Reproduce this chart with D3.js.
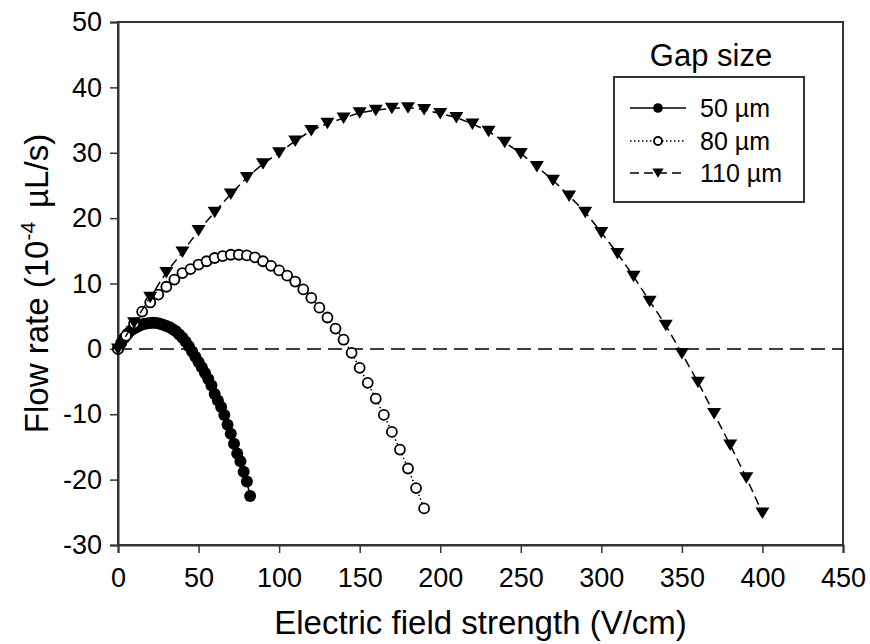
<!DOCTYPE html>
<html>
<head>
<meta charset="utf-8">
<script src="https://cdn.jsdelivr.net/npm/d3@7"></script>
<style>
  body { margin: 0; background: #fff; }
  text { font-family: Arial, 'Liberation Sans', sans-serif; fill: #000; }
</style>
</head>
<body>
<div id="root"></div>
<script>
const width = 870
const height = 644
const margin = { top: 22, right: 27, bottom: 99, left: 118 }

// 50 um gap (filled circles)
const x50 = [0, 2, 4, 6, 8, 10, 12, 14, 16, 18, 20, 22, 24, 26, 28, 30, 32, 34, 36, 38, 40,
  42, 44, 46, 48, 50, 52, 54, 56, 58, 60, 62, 64, 66, 68, 70, 72, 74, 76, 78, 80, 82]
const y50 = [0, 0.9, 1.7, 2.3, 2.8, 3.1, 3.4, 3.6, 3.8, 3.9, 3.95, 4.0, 3.95, 3.85, 3.7, 3.5,
  3.3, 3.0, 2.7, 2.2, 1.7, 1.1, 0.4, -0.4, -1.2, -2.0, -2.8, -3.7, -4.6, -5.6, -6.9, -7.9,
  -8.9, -10.1, -11.6, -13.0, -14.5, -16.0, -17.2, -18.8, -20.3, -22.5]

// 80 um gap (open circles)
const x80 = [0, 5, 10, 15, 20, 25, 30, 35, 40, 45, 50, 55, 60, 65, 70, 75, 80, 85, 90, 95,
  100, 105, 110, 115, 120, 125, 130, 135, 140, 145, 150, 155, 160, 165, 170, 175, 180, 185, 190]
const y80 = [0, 2.0, 3.9, 5.7, 7.1, 8.3, 9.5, 10.6, 11.6, 12.2, 12.9, 13.4, 13.9, 14.2, 14.4,
  14.4, 14.3, 14.0, 13.4, 12.7, 12.0, 11.2, 10.3, 9.1, 7.8, 6.3, 4.8, 3.1, 1.4, -0.6, -2.9,
  -5.2, -7.6, -10.1, -12.7, -15.4, -18.3, -21.3, -24.4]

// 110 um gap (filled down triangles)
const x110 = [0, 10, 20, 30, 40, 50, 60, 70, 80, 90, 100, 110, 120, 130, 140, 150, 160, 170,
  180, 190, 200, 210, 220, 230, 240, 250, 260, 270, 280, 290, 300, 310, 320, 330, 340, 350,
  360, 370, 380, 390, 400]
const y110 = [0, 4.0, 7.9, 11.7, 14.8, 18.1, 20.9, 23.7, 26.2, 28.3, 30.0, 31.8, 33.4, 34.5,
  35.3, 36.1, 36.5, 36.8, 36.9, 36.6, 36.0, 35.4, 34.4, 33.3, 31.6, 29.9, 27.9, 25.8, 23.4,
  20.9, 17.8, 14.6, 11.1, 7.3, 3.6, -0.7, -5.1, -9.9, -14.7, -19.7, -25.1]

const xTicks = [0, 50, 100, 150, 200, 250, 300, 350, 400, 450]
const yTicks = [-30, -20, -10, 0, 10, 20, 30, 40, 50]
const seriesNames = ['50 µm', '80 µm', '110 µm']

const series = [
  { name: seriesNames[0], xs: x50, ys: y50, marker: 'filled', dash: null },
  { name: seriesNames[1], xs: x80, ys: y80, marker: 'open', dash: '1.5,2.5' },
  { name: seriesNames[2], xs: x110, ys: y110, marker: 'triangle', dash: '9,5' },
]

const svg = d3.select('#root').append('svg').attr('width', width).attr('height', height)

const x = d3.scaleLinear().domain([0, 450]).range([margin.left, width - margin.right])
const y = d3.scaleLinear().domain([-30, 50]).range([height - margin.bottom, margin.top])

// plain hyphen for negatives, like the original
const fmt = (d) => String(d)

// frame
svg
  .append('rect')
  .attr('x', x(0))
  .attr('y', y(50))
  .attr('width', x(450) - x(0))
  .attr('height', y(-30) - y(50))
  .attr('fill', 'none')
  .attr('stroke', '#333')
  .attr('stroke-width', 2)

const xAxis = svg
  .append('g')
  .attr('transform', `translate(0, ${y(-30)})`)
  .call(d3.axisBottom(x).tickValues(xTicks).tickFormat(fmt).tickSize(8).tickPadding(15))
xAxis.select('.domain').attr('stroke', '#333').attr('stroke-width', 2)
xAxis.selectAll('.tick line').attr('stroke', '#333').attr('stroke-width', 1.5)
xAxis.selectAll('.tick text').attr('font-size', 27).attr('font-family', 'Arial, Liberation Sans, sans-serif')

const yAxis = svg
  .append('g')
  .attr('transform', `translate(${x(0)}, 0)`)
  .call(d3.axisLeft(y).tickValues(yTicks).tickFormat(fmt).tickSize(8).tickPadding(8))
yAxis.select('.domain').attr('stroke', '#333').attr('stroke-width', 2)
yAxis.selectAll('.tick line').attr('stroke', '#333').attr('stroke-width', 1.5)
yAxis.selectAll('.tick text').attr('font-size', 27).attr('font-family', 'Arial, Liberation Sans, sans-serif')

// zero reference line
svg
  .append('line')
  .attr('x1', x(0))
  .attr('x2', x(450))
  .attr('y1', y(0))
  .attr('y2', y(0))
  .attr('stroke', '#000')
  .attr('stroke-width', 1.5)
  .attr('stroke-dasharray', '14,7')

const line = d3
  .line()
  .x((d) => x(d[0]))
  .y((d) => y(d[1]))

function drawMarker(g, type, k = 1) {
  if (type === 'filled') {
    g.append('circle').attr('r', 6 * k).attr('fill', '#000')
  } else if (type === 'open') {
    g.append('circle').attr('r', 5 * k).attr('fill', '#fff').attr('stroke', '#000').attr('stroke-width', 1.8)
  } else {
    g.append('path')
      .attr('d', `M ${-7 * k},${-5.5 * k} L ${7 * k},${-5.5 * k} L 0,${6 * k} Z`)
      .attr('fill', '#000')
  }
}

for (const s of series) {
  const pts = s.xs.map((v, i) => [v, s.ys[i]])
  svg
    .append('path')
    .datum(pts)
    .attr('d', line)
    .attr('fill', 'none')
    .attr('stroke', '#000')
    .attr('stroke-width', 1.5)
    .attr('stroke-dasharray', s.dash)

  const m = svg
    .append('g')
    .selectAll('g')
    .data(pts)
    .join('g')
    .attr('transform', (d) => `translate(${x(d[0])}, ${y(d[1])})`)
  drawMarker(m, s.marker)
}

// axis titles
svg
  .append('text')
  .attr('x', (x(0) + x(450)) / 2)
  .attr('y', 634)
  .attr('text-anchor', 'middle')
  .attr('font-size', 33)
  .text('Electric field strength (V/cm)')

const yTitle = svg
  .append('text')
  .attr('transform', `translate(48, ${(y(50) + y(-30)) / 2}) rotate(-90)`)
  .attr('text-anchor', 'middle')
  .attr('font-size', 33)
yTitle.append('tspan').text('Flow rate (10')
yTitle.append('tspan').attr('font-size', 21).attr('dy', -13).text('-4')
yTitle.append('tspan').attr('dy', 13).attr('dx', 14).text('µL/s)')

// legend
const legend = svg.append('g')
legend
  .append('text')
  .attr('x', 711)
  .attr('y', 66)
  .attr('text-anchor', 'middle')
  .attr('font-size', 31)
  .text('Gap size')

legend
  .append('rect')
  .attr('x', 614)
  .attr('y', 77)
  .attr('width', 190)
  .attr('height', 125)
  .attr('fill', '#fff')
  .attr('stroke', '#333')
  .attr('stroke-width', 2)

const rows = [108, 141, 173]
const item = legend
  .selectAll('g.item')
  .data(series)
  .join('g')
  .attr('class', 'item')
  .attr('transform', (d, i) => `translate(0, ${rows[i]})`)

item
  .append('line')
  .attr('x1', 630)
  .attr('x2', 686)
  .attr('stroke', '#000')
  .attr('stroke-width', 1.5)
  .attr('stroke-dasharray', (d) => d.dash)

item.each(function (d) {
  const g = d3.select(this).append('g').attr('transform', 'translate(658, 0)')
  drawMarker(g, d.marker, 0.8)
})

item
  .append('text')
  .attr('x', 700)
  .attr('y', 9)
  .attr('font-size', 25)
  .text((d) => d.name)
</script>
</body>
</html>
